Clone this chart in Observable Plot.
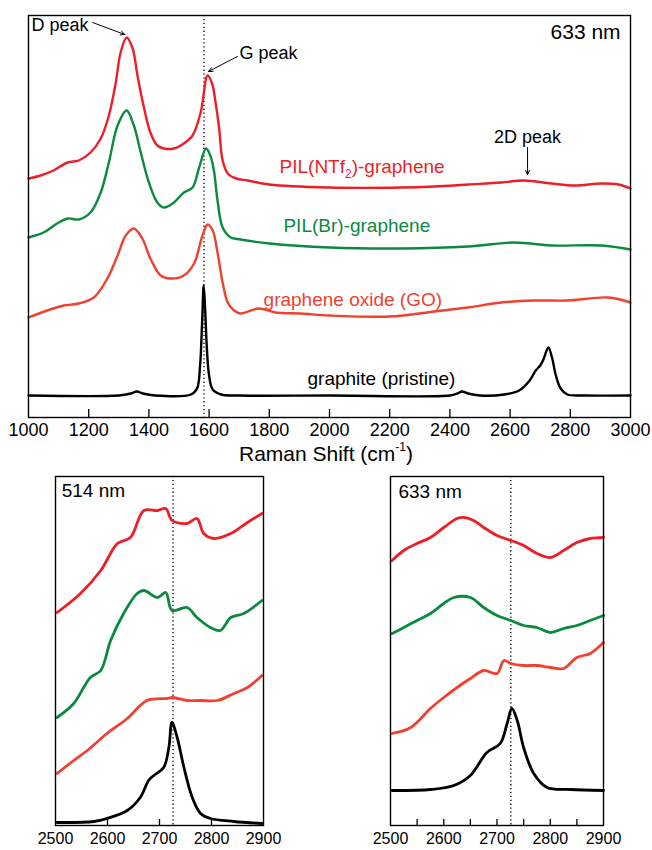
<!DOCTYPE html>
<html><head><meta charset="utf-8">
<script src="https://cdn.jsdelivr.net/npm/d3@7"></script>
<script src="https://cdn.jsdelivr.net/npm/@observablehq/plot@0.6"></script>
<style>
body{margin:0;background:#fff;}
#wrap{position:relative;width:652px;height:850px;background:#fff;font-family:"Liberation Sans",Arial,sans-serif;overflow:hidden;}
.panel{position:absolute;}
#xtitle{position:absolute;left:0;width:652px;top:442px;text-align:center;font-size:21px;color:#000;}
#xtitle sup{font-size:12px;vertical-align:10px;line-height:0;}
</style></head><body><div id="wrap"><div id="xtitle">Raman Shift (cm<sup>-1</sup>)</div></div>
<script>
// ---------- data: Raman spectra (x = cm^-1, y = arbitrary intensity) ----------
const seriesNames = ["ntf2", "br", "go", "graphite"];
const seriesColors = ["#ec1f27", "#0a8a3f", "#f2402f", "#000000"];

// Top panel, 633 nm, 1000–3000 cm^-1
const topNtf2 = [[1000,239],[1040,242],[1083,247],[1130,255],[1167,257],[1206,265],[1240,279],[1267,302],[1290,335],[1306,365],[1326,380],[1346,369],[1362,342],[1382,312],[1405,285],[1428,272],[1450,269],[1483,269],[1516,274],[1545,282],[1572,305],[1595,342],[1610,334],[1620,318],[1633,290],[1645,257],[1662,244],[1690,239],[1728,237],[1800,233],[2000,230],[2238,230],[2348,231],[2460,233],[2571,235],[2647,237],[2737,234],[2814,232],[2903,234],[2960,233],[3000,229]];
const topBr = [[1000,180],[1050,185],[1095,194],[1130,199],[1167,198],[1206,205],[1240,225],[1267,255],[1296,292],[1326,307],[1350,292],[1373,265],[1400,235],[1428,215],[1450,210],[1483,215],[1516,225],[1545,230],[1566,249],[1590,269],[1604,262],[1616,247],[1628,217],[1645,190],[1672,180],[1705,178],[1800,174],[2000,170],[2238,169],[2460,171],[2614,175],[2737,172],[2903,172],[3000,168]];
const topGo = [[1000,100],[1062,107],[1118,112],[1167,114],[1217,120],[1262,139],[1296,162],[1323,182],[1350,189],[1378,179],[1405,159],[1439,142],[1472,139],[1516,142],[1550,154],[1578,182],[1595,193],[1612,187],[1628,165],[1645,135],[1662,115],[1683,107],[1705,104],[1765,109],[1820,105],[1905,104],[2000,102],[2200,101],[2348,106],[2460,110],[2571,115],[2681,117],[2792,117],[2926,120],[3000,115]];
const topGraphite = [[1000,22],[1300,22],[1340,24],[1360,26],[1380,24],[1420,22],[1540,23],[1560,29],[1570,52],[1577,97],[1582,132],[1587,107],[1593,67],[1600,42],[1612,28],[1640,23],[1700,22],[2000,22],[2400,22],[2425,24],[2440,26],[2460,24],[2500,22],[2580,23],[2630,27],[2665,37],[2685,47],[2700,52],[2712,59],[2727,70],[2740,59],[2752,42],[2768,29],[2790,23],[2850,22],[3000,22]];

// Bottom-left panel, 514 nm, 2D region
const b514Ntf2 = [[2503,213],[2548,232],[2587,255],[2619,282],[2644,288],[2670,315],[2696,315],[2712,317],[2724,305],[2753,302],[2772,307],[2785,292],[2804,287],[2837,292],[2869,303],[2897,312]];
const b514Br = [[2503,108],[2535,122],[2567,148],[2587,155],[2606,185],[2631,212],[2657,232],[2670,235],[2696,228],[2712,233],[2724,215],[2753,218],[2772,208],[2798,198],[2817,195],[2837,208],[2862,212],[2897,225]];
const b514Go = [[2503,52],[2535,65],[2561,75],[2599,92],[2638,107],[2676,125],[2715,127],[2724,128],[2753,125],[2779,125],[2811,125],[2843,132],[2869,138],[2897,150]];
const b514Graphite = [[2503,3],[2574,4],[2599,7],[2638,15],[2663,28],[2679,45],[2689,50],[2708,58],[2718,78],[2724,103],[2734,88],[2747,58],[2763,28],[2779,12],[2798,7],[2843,4],[2897,2]];

// Bottom-right panel, 633 nm, 2D region
const b633Ntf2 = [[2503,265],[2525,275],[2550,282],[2575,288],[2600,298],[2625,307],[2638,308],[2656,305],[2675,298],[2700,290],[2726,285],[2750,280],[2775,272],[2800,268],[2825,275],[2850,283],[2875,287],[2900,288]];
const b633Br = [[2503,192],[2525,198],[2550,205],[2575,212],[2600,222],[2619,228],[2650,228],[2675,218],[2700,210],[2726,205],[2750,200],[2775,198],[2800,193],[2825,197],[2850,200],[2875,205],[2900,210]];
const b633Go = [[2503,92],[2538,98],[2575,117],[2600,128],[2625,138],[2650,147],[2675,155],[2700,152],[2713,165],[2726,162],[2750,160],[2775,160],[2800,158],[2825,157],[2850,168],[2875,172],[2900,183]];
const b633Graphite = [[2503,35],[2575,36],[2619,40],[2650,50],[2681,73],[2706,82],[2719,102],[2728,117],[2738,105],[2750,78],[2769,52],[2794,38],[2838,36],[2900,35]];

// reference lines, ticks and labels
const gLineTop = [1583];
const line2D = [2726];
const topTickLabels = [1000,1200,1400,1600,1800,2000,2200,2400,2600,2800,3000];
const topTicks = [1200,1400,1600,1800,2000,2200,2400,2600,2800];
const bottomTickLabels = [2500,2600,2700,2800,2900];
const bottomLeftTicks = [2600,2700,2800];
const bottomRightTicks = [2550,2600,2650,2700,2750,2800,2850];

const curveLabels = [
  {series: "ntf2", text: "PIL(NTf2)-graphene", x: 1834, y: 251},
  {series: "br", text: "PIL(Br)-graphene", x: 1847, y: 192},
  {series: "go", text: "graphene oxide (GO)", x: 1781, y: 118},
  {series: "graphite", text: "graphite (pristine)", x: 1927, y: 39}
];
const peakLabels = [
  {text: "D peak", x: 1010, y: 392},
  {text: "G peak", x: 1701, y: 364}
];
const peak2D = [{text: "2D peak", x: 2658, y: 280}];
const peakArrows = [
  {x1: 1213, y1: 395, x2: 1320, y2: 383},
  {x1: 1694, y1: 361, x2: 1598, y2: 346},
  {x1: 2658, y1: 270, x2: 2658, y2: 243}
];
const topLaser = [{text: "633 nm", x: 2967, y: 385}];
const leftLaser = [{text: "514 nm", x: 2512, y: 335}];
const rightLaser = [{text: "633 nm", x: 2515, y: 334}];

// ---------- build ----------
const rows = (pairs, series) => pairs.map(([x, y]) => ({x, y, series}));
const FONT = '"Liberation Sans", Arial, sans-serif';
const colorScale = {domain: seriesNames, range: seriesColors};

function spectra(sets, width) {
  return sets.map(([pairs, s]) => Plot.line(rows(pairs, s), {x: "x", y: "y", stroke: "series", strokeWidth: width, curve: "catmull-rom"}));
}

const wrap = document.getElementById("wrap");

// top
const topH = 470, topMT = 15, topMB = 53;
const topPlot = Plot.plot({
  width: 652, height: topH,
  marginTop: topMT, marginBottom: topMB, marginLeft: 28, marginRight: 22,
  x: {domain: [1000, 3000]},
  y: {domain: [0, 402], axis: null},
  color: colorScale,
  style: {fontFamily: FONT, color: "#000", background: "transparent", overflow: "visible"},
  marks: [
    Plot.ruleX(gLineTop, {stroke: "#000", strokeWidth: 1.3, strokeDasharray: "1.3,2.6"}),
    ...spectra([[topGraphite, "graphite"], [topGo, "go"], [topBr, "br"], [topNtf2, "ntf2"]], 2.4),
    Plot.tickX(topTicks, {x: d => d, stroke: "#000", strokeWidth: 1.3, insetTop: topH - topMT - topMB - 8}),
    Plot.axisX({ticks: topTickLabels, tickSize: 0, tickPadding: 6, tickFormat: "d", fontSize: 18, label: null}),
    Plot.frame({stroke: "#000", strokeWidth: 1.4}),
    Plot.text(curveLabels, {x: "x", y: "y", text: "text", fill: "series", textAnchor: "start", fontSize: 19}),
    Plot.text(peakLabels, {x: "x", y: "y", text: "text", fill: "#000", textAnchor: "start", fontSize: 18}),
    Plot.text(peak2D, {x: "x", y: "y", text: "text", fill: "#000", textAnchor: "middle", fontSize: 18}),
    Plot.text(topLaser, {x: "x", y: "y", text: "text", fill: "#000", textAnchor: "end", fontSize: 21}),
    Plot.arrow(peakArrows, {x1: "x1", y1: "y1", x2: "x2", y2: "y2", stroke: "#000", strokeWidth: 1, headLength: 7, headAngle: 50})
  ]
});
topPlot.classList.add("panel");
topPlot.style.left = "0px"; topPlot.style.top = "0px";
wrap.appendChild(topPlot);

// subscript for NTf2
topPlot.querySelectorAll("text").forEach(t => {
  if (t.textContent === "PIL(NTf2)-graphene") {
    t.textContent = "";
    const ns = "http://www.w3.org/2000/svg";
    const a = document.createElementNS(ns, "tspan"); a.textContent = "PIL(NTf";
    const b = document.createElementNS(ns, "tspan"); b.textContent = "2"; b.setAttribute("font-size", "12"); b.setAttribute("dy", "5");
    const c = document.createElementNS(ns, "tspan"); c.textContent = ")-graphene"; c.setAttribute("dy", "-5");
    t.append(a, b, c);
  }
});

// bottom panels
const botTop = 460, botH = 400, botMT = 16, botMB = 35;
function bottomPanel(sets, ticks, laser, left, width, mL, mR) {
  const p = Plot.plot({
    width, height: botH,
    marginTop: botMT, marginBottom: botMB, marginLeft: mL, marginRight: mR,
    x: {domain: [2500, 2900]},
    y: {domain: [0, 349], axis: null},
    color: colorScale,
    style: {fontFamily: FONT, color: "#000", background: "transparent", overflow: "visible"},
    marks: [
      Plot.ruleX(line2D, {stroke: "#000", strokeWidth: 1.3, strokeDasharray: "1.3,2.6"}),
      ...spectra(sets, 2.8),
      Plot.tickX(ticks, {x: d => d, stroke: "#000", strokeWidth: 1.3, insetTop: botH - botMT - botMB - 6}),
      Plot.axisX({ticks: bottomTickLabels, tickSize: 0, tickPadding: 7, tickFormat: "d", fontSize: 16, label: null}),
      Plot.frame({stroke: "#000", strokeWidth: 1.4}),
      Plot.text(laser, {x: "x", y: "y", text: "text", fill: "#000", textAnchor: "start", fontSize: 19})
    ]
  });
  p.classList.add("panel");
  p.style.left = left + "px"; p.style.top = botTop + "px";
  wrap.appendChild(p);
}
bottomPanel([[b514Graphite, "graphite"], [b514Go, "go"], [b514Br, "br"], [b514Ntf2, "ntf2"]], bottomLeftTicks, leftLaser, 0, 330, 55, 67);
bottomPanel([[b633Graphite, "graphite"], [b633Go, "go"], [b633Br, "br"], [b633Ntf2, "ntf2"]], bottomRightTicks, rightLaser, 330, 322, 60, 49);
</script></body></html>
